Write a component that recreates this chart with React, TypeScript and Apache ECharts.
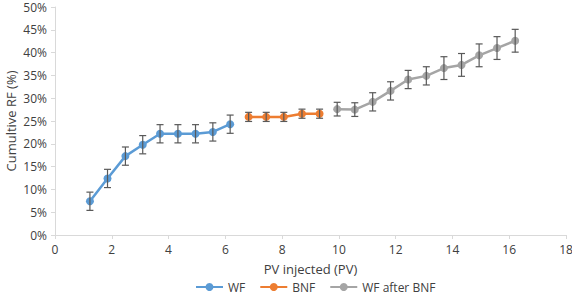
import React, { useEffect, useRef } from "react";
import * as echarts from "echarts";

const wfX = [1.23, 1.85, 2.48, 3.09, 3.7, 4.33, 4.95, 5.56, 6.17];
const wfY = [7.4, 12.4, 17.3, 19.8, 22.2, 22.2, 22.2, 22.6, 24.3];
const wfErr = [2, 2, 2, 2, 2, 2, 2, 2, 2];

const bnfX = [6.82, 7.44, 8.06, 8.7, 9.32];
const bnfY = [25.9, 25.9, 25.9, 26.6, 26.6];
const bnfErr = [1, 1, 1, 1, 1];

const wfaX = [9.94, 10.56, 11.19, 11.82, 12.44, 13.08, 13.7, 14.32, 14.94, 15.57, 16.21];
const wfaY = [27.6, 27.5, 29.2, 31.6, 34.1, 34.9, 36.6, 37.3, 39.4, 41.0, 42.6];
const wfaErr = [1.5, 1.5, 2, 2, 2, 2, 2.5, 2.5, 2.5, 2.5, 2.5];

const xTicks = { min: 0, max: 18, interval: 2 };
const yTicks = { min: 0, max: 50, interval: 5 };

const seriesNames = ["WF", "BNF", "WF after BNF"];
const colors = ["#5B9BD5", "#ED7D31", "#A5A5A5"];

function errSeries(xs: number[], ys: number[], es: number[]) {
  return {
    type: "custom",
    silent: true,
    z: 3,
    data: xs.map((x, i) => [x, ys[i] - es[i], ys[i] + es[i]]),
    renderItem: (params: any, api: any) => {
      const x = api.value(0);
      const lo = api.coord([x, api.value(1)]);
      const hi = api.coord([x, api.value(2)]);
      const cap = 3.5;
      const style = { stroke: "#595959", lineWidth: 1.2 };
      return {
        type: "group",
        children: [
          { type: "line", shape: { x1: lo[0], y1: lo[1], x2: hi[0], y2: hi[1] }, style },
          { type: "line", shape: { x1: lo[0] - cap, y1: lo[1], x2: lo[0] + cap, y2: lo[1] }, style },
          { type: "line", shape: { x1: hi[0] - cap, y1: hi[1], x2: hi[0] + cap, y2: hi[1] }, style },
        ],
      };
    },
  };
}

function lineSeries(name: string, xs: number[], ys: number[], color: string) {
  return {
    type: "line",
    name,
    z: 2,
    data: xs.map((x, i) => [x, ys[i]]),
    symbol: "circle",
    symbolSize: 8,
    lineStyle: { color, width: 2.5 },
    itemStyle: { color },
  };
}

export default function App() {
  const ref = useRef<HTMLDivElement>(null);
  useEffect(() => {
    if (!ref.current) return;
    const chart = echarts.init(ref.current, null, { renderer: "svg" });
    const font = "Open Sans, Liberation Sans, sans-serif";
    chart.setOption({
      animation: false,
      textStyle: { fontFamily: font },
      grid: { left: 55, right: 6, top: 7, bottom: 60, outerBoundsMode: "none", containLabel: false },
      legend: {
        data: seriesNames,
        left: 190,
        top: 276,
        itemWidth: 27,
        itemHeight: 10,
        itemGap: 14,
        textStyle: { color: "#404040", fontSize: 12, fontFamily: font },
      },
      xAxis: {
        type: "value",
        ...xTicks,
        name: "PV injected (PV)",
        nameLocation: "middle",
        nameGap: 27,
        nameMoveOverlap: false,
        nameTextStyle: { color: "#404040", fontSize: 13, fontFamily: font },
        axisLine: { lineStyle: { color: "#D9D9D9", width: 1 } },
        axisTick: { show: true, length: 4, lineStyle: { color: "#D9D9D9" } },
        axisLabel: { color: "#404040", fontSize: 12, margin: 8 },
        splitLine: { show: false },
      },
      yAxis: {
        type: "value",
        ...yTicks,
        name: "Cumultive RF (%)",
        nameLocation: "middle",
        nameGap: 38,
        nameMoveOverlap: false,
        nameTextStyle: { color: "#404040", fontSize: 13, fontFamily: font },
        axisLine: { show: true, lineStyle: { color: "#D9D9D9", width: 1 } },
        axisTick: { show: true, length: 4, lineStyle: { color: "#D9D9D9" } },
        axisLabel: { color: "#404040", fontSize: 12, margin: 8, formatter: "{value}%" },
        splitLine: { show: false },
      },
      series: [
        lineSeries(seriesNames[0], wfX, wfY, colors[0]),
        lineSeries(seriesNames[1], bnfX, bnfY, colors[1]),
        lineSeries(seriesNames[2], wfaX, wfaY, colors[2]),
        errSeries(wfX, wfY, wfErr),
        errSeries(bnfX, bnfY, bnfErr),
        errSeries(wfaX, wfaY, wfaErr),
      ],
    });
    return () => chart.dispose();
  }, []);
  return <div ref={ref} style={{ width: 572, height: 295, position: "absolute", left: 0, top: 0 }} />;
}
